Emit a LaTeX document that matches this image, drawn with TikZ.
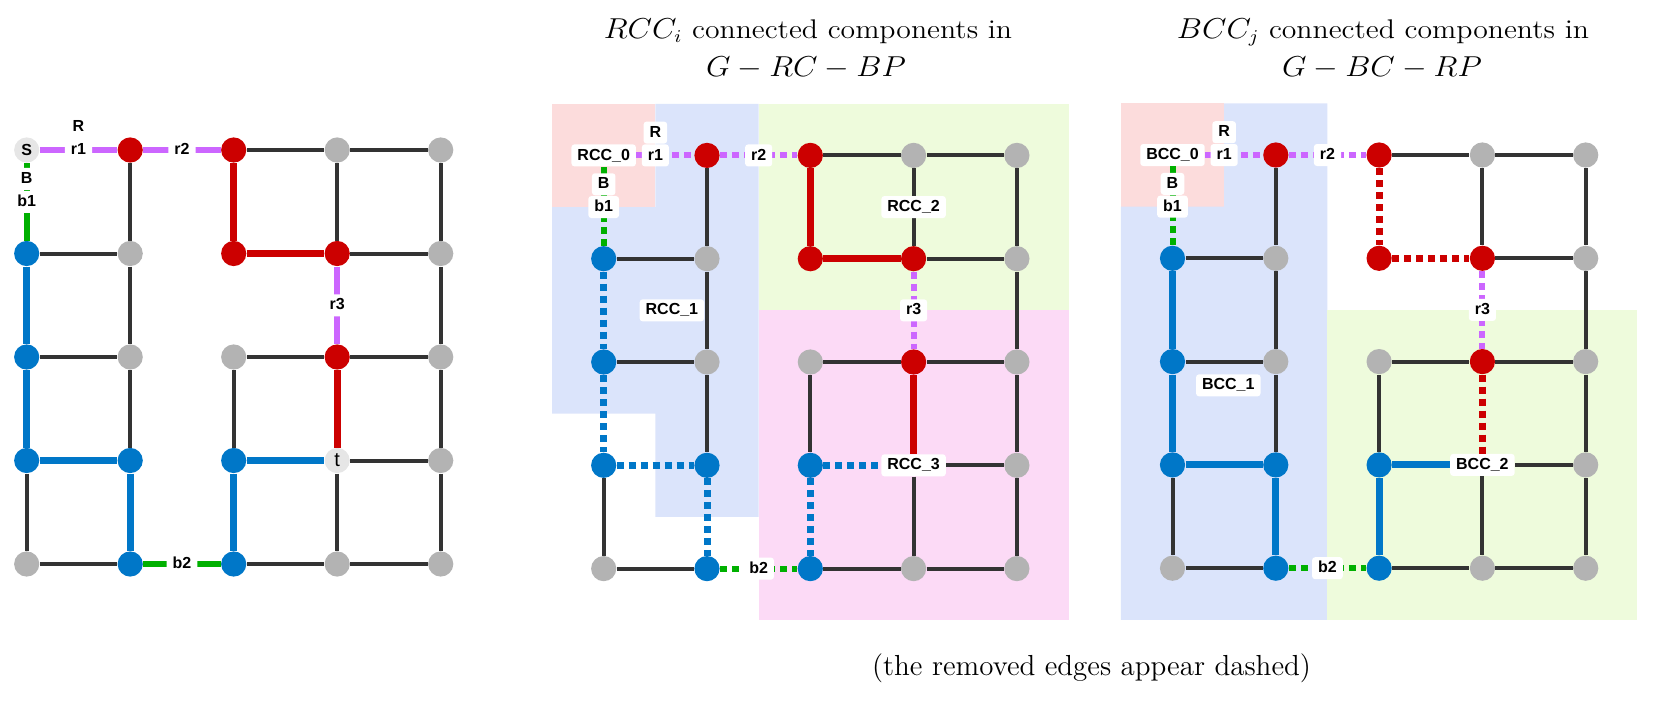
\documentclass[tikz,border=0pt]{standalone}
\usepackage{graphicx}
\usepackage{fontspec}
\setsansfont{Liberation Sans}
\usepackage{tikz}
\usetikzlibrary{positioning}

\definecolor{nodered}{HTML}{CC0000}
\definecolor{nodeblue}{HTML}{0077C8}
\definecolor{nodegray}{HTML}{B3B3B3}
\definecolor{nodelight}{HTML}{E6E6E6}
\definecolor{edgeblack}{HTML}{333333}
\definecolor{edgepurple}{HTML}{CC66FF}
\definecolor{edgegreen}{HTML}{00B000}
\definecolor{bgpink}{HTML}{FCDCDC}
\definecolor{bgblue}{HTML}{DBE4FB}
\definecolor{bggreen}{HTML}{EEFBDC}
\definecolor{bgmagenta}{HTML}{FCDAF6}

% grid cells are named by column and row
\newcommand{\graynodes}{3/0,4/0,1/1,4/1,1/2,2/2,4/2,4/3,0/4,3/4,4/4}
\newcommand{\rednodes}{1/0,2/0,2/1,3/1,3/2}
\newcommand{\bluenodes}{0/1,0/2,0/3,1/3,2/3,1/4,2/4}
\newcommand{\blackedges}{20/30,30/40,01/11,31/41,02/12,22/32,32/42,33/43,04/14,24/34,34/44,10/11,11/12,12/13,03/04,22/23,30/31,33/34,40/41,41/42,42/43,43/44}
\newcommand{\blueedges}{01/02,02/03,03/13,13/14,23/33,23/24}
\newcommand{\rededges}{20/21,21/31,32/33}
\newcommand{\widetext}[1]{\scalebox{1.1}[1]{#1}}

\begin{document}
\begin{tikzpicture}[
  gray node/.style={circle,fill=nodegray,minimum size=12.6pt,inner sep=0pt},
  red node/.style={gray node,fill=nodered},
  blue node/.style={gray node,fill=nodeblue},
  light node/.style={gray node,fill=nodelight,font=\fontsize{8}{8}\selectfont\sffamily\bfseries},
  lab node/.style={fill=white,rounded corners=1.5pt,inner xsep=3pt,inner ysep=2pt,
    text height=5.8pt,text depth=1.2pt,font=\fontsize{8}{9}\selectfont\sffamily\bfseries},
  head text/.style={anchor=base,font=\fontsize{13.5}{16}\selectfont},
  black edge/.style={draw=edgeblack,line width=2pt},
  blue edge/.style={draw=nodeblue,line width=3.5pt},
  red edge/.style={draw=nodered,line width=3.5pt},
  purple edge/.style={draw=edgepurple,line width=3pt},
  green edge/.style={draw=edgegreen,line width=3pt},
  removed/.style={dash pattern=on 3.5pt off 2.5pt}]
\useasboundingbox (0,0) rectangle (827.5pt,-359pt);

%titles
  \node[head text] (t1) at (404pt,-19.25pt) {\widetext{$RCC_i$ connected components in}};
  \node[head text] (t2) at (403pt,-38pt) {\widetext{$G - RC - BP$}};
  \node[head text] (t3) at (691.5pt,-19.25pt) {\widetext{$BCC_j$ connected components in}};
  \node[head text] (t4) at (691pt,-38pt) {\widetext{$G - BC - RP$}};
  \node[head text,font=\fontsize{14.5}{17}\selectfont] (cap) at (545.75pt,-337.5pt) {(the removed edges appear dashed)};

%graph
\begin{scope}[shift={(13.35pt,-75pt)},x=51.75pt,y=-51.75pt]
  \foreach \i/\j in \graynodes \node[gray node] (g\i\j) at (\i,\j) {};
  \foreach \i/\j in \rednodes \node[red node] (g\i\j) at (\i,\j) {};
  \foreach \i/\j in \bluenodes \node[blue node] (g\i\j) at (\i,\j) {};
  \node[light node] (g00) at (0,0) {S};
  \node[light node,font=\fontsize{10}{10}\selectfont\sffamily] (g33) at (3,3) {t};
%paths
  \foreach \u/\v in \blackedges \path[black edge] (g\u) -- (g\v);
  \foreach \u/\v in \blueedges \path[blue edge] (g\u) -- (g\v);
  \foreach \u/\v in \rededges \path[red edge] (g\u) -- (g\v);
  \path[purple edge] (g00) -- (g10) (g10) -- (g20) (g31) -- (g32);
  \path[green edge] (g00) -- (g01) (g14) -- (g24);
  \node[lab node] (gr1) at (0.5,0) {r1};
  \node[lab node,above=0pt of gr1] (gR) {R};
  \node[lab node] (gr2) at (1.5,0) {r2};
  \node[lab node] (gr3) at (3,1.5) {r3};
  \node[lab node] (gb1) at (0,0.5) {b1};
  \node[lab node,above=0pt of gb1] (gB) {B};
  \node[lab node] (gb2) at (1.5,4) {b2};
\end{scope}

%RCC
\begin{scope}[shift={(301.85pt,-77.7pt)},x=51.65pt,y=-51.65pt]
  \fill[bgpink] (-0.5,-0.5) rectangle (0.5,0.5);
  \fill[bgblue] (0.5,-0.5) -- (1.5,-0.5) -- (1.5,3.5) -- (0.5,3.5) -- (0.5,2.5)
    -- (-0.5,2.5) -- (-0.5,0.5) -- (0.5,0.5) -- cycle;
  \fill[bggreen] (1.5,-0.5) rectangle (4.5,1.5);
  \fill[bgmagenta] (1.5,1.5) rectangle (4.5,4.5);
  \foreach \i/\j in \graynodes \node[gray node] (r\i\j) at (\i,\j) {};
  \foreach \i/\j in \rednodes \node[red node] (r\i\j) at (\i,\j) {};
  \foreach \i/\j in \bluenodes \node[blue node] (r\i\j) at (\i,\j) {};
  \node[lab node] (r00) at (0,0) {RCC\_0};
  \node[lab node] (r33) at (3,3) {RCC\_3};
%paths
  \foreach \u/\v in \blackedges \path[black edge] (r\u) -- (r\v);
  \foreach \u/\v in \blueedges \path[blue edge,removed] (r\u) -- (r\v);
  \foreach \u/\v in \rededges \path[red edge] (r\u) -- (r\v);
  \path[purple edge,removed] (r00) -- (r10) (r10) -- (r20) (r31) -- (r32);
  \path[green edge,removed] (r00) -- (r01) (r14) -- (r24);
  \node[lab node] (rr1) at (0.5,0) {r1};
  \node[lab node,above=0pt of rr1] (rR) {R};
  \node[lab node] (rr2) at (1.5,0) {r2};
  \node[lab node] (rr3) at (3,1.5) {r3};
  \node[lab node] (rb1) at (0,0.5) {b1};
  \node[lab node,above=0pt of rb1] (rB) {B};
  \node[lab node] (rb2) at (1.5,4) {b2};
  \node[lab node] (rcc1) at (0.66,1.5) {RCC\_1};
  \node[lab node] (rcc2) at (3,0.5) {RCC\_2};
\end{scope}

%BCC
\begin{scope}[shift={(586.25pt,-77.5pt)},x=51.65pt,y=-51.65pt]
  \fill[bgpink] (-0.5,-0.5) rectangle (0.5,0.5);
  \fill[bgblue] (0.5,-0.5) -- (1.5,-0.5) -- (1.5,4.5) -- (-0.5,4.5) -- (-0.5,0.5)
    -- (0.5,0.5) -- cycle;
  \fill[bggreen] (1.5,1.5) rectangle (4.5,4.5);
  \foreach \i/\j in \graynodes \node[gray node] (b\i\j) at (\i,\j) {};
  \foreach \i/\j in \rednodes \node[red node] (b\i\j) at (\i,\j) {};
  \foreach \i/\j in \bluenodes \node[blue node] (b\i\j) at (\i,\j) {};
  \node[lab node] (b00) at (0,0) {BCC\_0};
  \node[lab node] (b33) at (3,3) {BCC\_2};
%paths
  \foreach \u/\v in \blackedges \path[black edge] (b\u) -- (b\v);
  \foreach \u/\v in \blueedges \path[blue edge] (b\u) -- (b\v);
  \foreach \u/\v in \rededges \path[red edge,removed] (b\u) -- (b\v);
  \path[purple edge,removed] (b00) -- (b10) (b10) -- (b20) (b31) -- (b32);
  \path[green edge,removed] (b00) -- (b01) (b14) -- (b24);
  \node[lab node] (br1) at (0.5,0) {r1};
  \node[lab node,above=0pt of br1] (bR) {R};
  \node[lab node] (br2) at (1.5,0) {r2};
  \node[lab node] (br3) at (3,1.5) {r3};
  \node[lab node] (bb1) at (0,0.5) {b1};
  \node[lab node,above=0pt of bb1] (bB) {B};
  \node[lab node] (bb2) at (1.5,4) {b2};
  \node[lab node] (bcc1) at (0.54,2.23) {BCC\_1};
\end{scope}
\end{tikzpicture}
\end{document}
